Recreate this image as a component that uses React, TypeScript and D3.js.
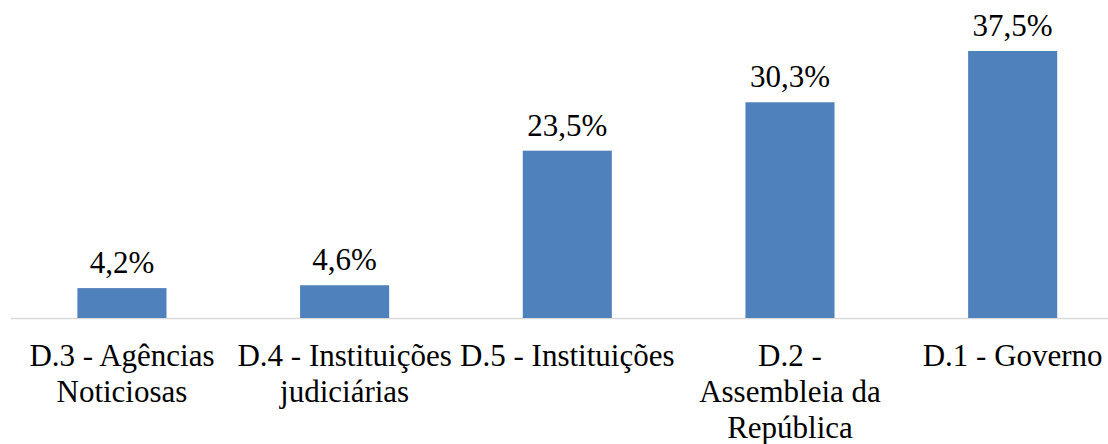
import React from "react";
import * as d3 from "d3";

const categories: string[] = [
  "D.3 - Agências\nNoticiosas",
  "D.4 - Instituições\njudiciárias",
  "D.5 - Instituições",
  "D.2 -\nAssembleia da\nRepública",
  "D.1 - Governo",
];
const values: number[] = [4.2, 4.6, 23.5, 30.3, 37.5];
const valueLabels: string[] = ["4,2%", "4,6%", "23,5%", "30,3%", "37,5%"];

const W = 1108;
const H = 444;
const FONT = "Liberation Serif";

export default function App() {
  const x = d3
    .scaleBand<string>()
    .domain(categories)
    .range([10.6, 1124])
    .paddingInner(0.6)
    .paddingOuter(0.3);
  const y = d3.scaleLinear().domain([0, 40]).range([318, 33.2]);

  return (
    <svg
      width={W}
      height={H}
      style={{ position: "absolute", left: 0, top: 0, background: "#fff" }}
    >
      <line x1={10.6} x2={1124} y1={318.5} y2={318.5} stroke="#d9d9d9" strokeWidth={1.5} />
      {categories.map((c, i) => {
        const bx = x(c)!;
        const by = y(values[i]);
        return (
          <g key={c}>
            <rect
              x={bx}
              y={by}
              width={x.bandwidth()}
              height={y(0) - by}
              fill="#4f81bd"
            />
            <text
              x={bx + x.bandwidth() / 2}
              y={by - 15}
              textAnchor="middle"
              style={{ fontFamily: FONT, fontSize: "31px" }}
              fill="#000"
            >
              {valueLabels[i]}
            </text>
            <text
              textAnchor="middle"
              style={{ fontFamily: FONT, fontSize: "31px" }}
              fill="#000"
            >
              {c.split("\n").map((line, j) => (
                <tspan key={j} x={bx + x.bandwidth() / 2} y={365.5 + j * 36}>
                  {line}
                </tspan>
              ))}
            </text>
          </g>
        );
      })}
    </svg>
  );
}
